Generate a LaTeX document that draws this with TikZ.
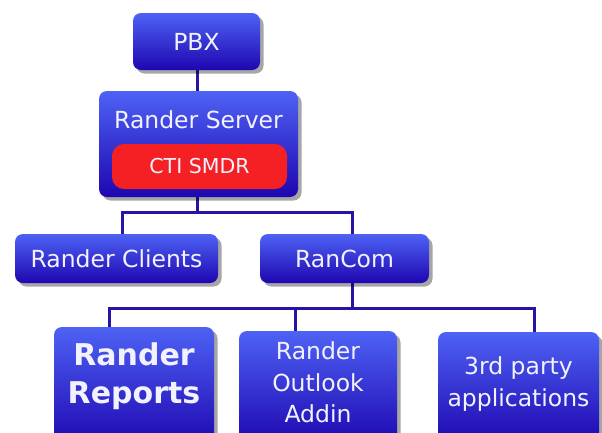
\documentclass[tikz,border=0pt]{standalone}
\usepackage{fontspec}
\setmainfont{DejaVu Sans}
\usetikzlibrary{shadows}
\definecolor{boxtop}{RGB}{78,98,244}
\definecolor{boxbot}{RGB}{30,6,176}
\definecolor{linec}{RGB}{38,20,165}
\definecolor{ctired}{RGB}{244,32,36}
\definecolor{txtc}{RGB}{242,242,255}
\pgfdeclarelayer{background}
\pgfsetlayers{background,main}
\begin{document}
\begin{tikzpicture}[x=1pt,y=-1pt,
  bluebox/.style={rounded corners=8pt, top color=boxtop, bottom color=boxbot, draw=none, inner sep=0pt,
    drop shadow={shadow xshift=3.5pt, shadow yshift=-3.5pt, fill=black, opacity=0.35}},
  redbox/.style={rounded corners=12pt, fill=ctired, draw=none, inner sep=0pt, text=txtc,
    font=\fontsize{20.5}{24}\selectfont},
  lbl/.style={text=txtc, align=center, inner sep=0pt, font=\fontsize{23.5}{31.5}\selectfont},
  biglbl/.style={text=txtc, align=center, inner sep=0pt, font=\fontsize{30}{38}\selectfont\bfseries},
  conn/.style={draw=linec, line width=3pt}]
\useasboundingbox (0,0) rectangle (602,432);
\clip (0,0) rectangle (602,432);

% boxes
\node[bluebox, minimum width=127pt, minimum height=57pt] (pbx) at (196.5,41.5) {};
\node[lbl] (pbxt) at (196.5,41.5) {PBX};
\node[bluebox, minimum width=199pt, minimum height=106pt] (server) at (198.5,144) {};
\node[lbl] (servert) at (198.5,120) {Rander Server};
\node[redbox, minimum width=175pt, minimum height=45pt] (cti) at (199.5,166.5) {CTI SMDR};

\node[bluebox, minimum width=203pt, minimum height=49pt] (clients) at (116.5,258.5) {};
\node[lbl] (clientst) at (116.5,258.5) {Rander Clients};
\node[bluebox, minimum width=169pt, minimum height=49pt] (rancom) at (344.5,258.5) {};
\node[lbl] (rancomt) at (344.5,258.5) {RanCom};

\node[bluebox, minimum width=160pt, minimum height=120pt] (reports) at (134,387) {};
\node[biglbl] (reportst) at (134,376) {Rander\\Reports};
\node[bluebox, minimum width=158pt, minimum height=114pt] (outlook) at (318,388) {};
\node[lbl] (outlookt) at (318,382.5) {Rander\\Outlook\\Addin};
\node[bluebox, minimum width=161pt, minimum height=112pt] (thirdp) at (518.5,388) {};
\node[lbl] (thirdpt) at (518.5,384) {3rd party\\applications};

% junctions
\coordinate (busA) at (197,212);
\coordinate (clTop) at (122,212);
\coordinate (rcTop) at (352,212);
\coordinate (rcBot) at (352,308);
\coordinate (b1) at (109,308);
\coordinate (b2) at (295,308);
\coordinate (b3) at (534,308);

\begin{pgfonlayer}{background}
\fill[white] (0,0) rectangle (602,432);
\draw[conn] (pbx.south -| busA) -- (server.north -| busA);
\draw[conn] (server.south -| busA) -- (busA);
\draw[conn] (clients.north -| clTop) -- (clTop) -- (rcTop) -- (rancom.north -| rcTop);
\draw[conn] (rancom.south -| rcBot) -- (rcBot);
\draw[conn] (reports.north -| b1) -- (b1) -- (b3) -- (thirdp.north -| b3);
\draw[conn] (b2) -- (outlook.north -| b2);
\end{pgfonlayer}
\end{tikzpicture}
\end{document}
